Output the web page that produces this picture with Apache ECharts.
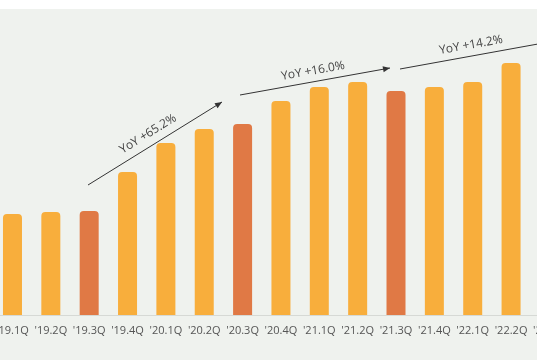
<!DOCTYPE html>
<html>
<head>
<meta charset="utf-8">
<script src="https://cdn.jsdelivr.net/npm/echarts@6/dist/echarts.min.js"></script>
<style>
html,body{margin:0;padding:0;background:#ffffff;overflow:hidden;width:537px;height:360px;}
#bg{position:absolute;left:0;top:9px;width:537px;height:351px;background:#eff2ee;}
#chart{position:absolute;left:-7px;top:0;width:576px;height:360px;}
</style>
</head>
<body>
<div id="bg"></div>
<div id="chart"></div>
<script>
const categories = ["'19.1Q","'19.2Q","'19.3Q","'19.4Q","'20.1Q","'20.2Q","'20.3Q","'20.4Q","'21.1Q","'21.2Q","'21.3Q","'21.4Q","'22.1Q","'22.2Q","'22.3Q"];
const values = [130, 132, 133, 172, 201, 215, 220, 243, 257, 262, 253, 257, 262, 281, 289];
const highlightIdx = [2, 6, 10, 14];
const yoyLabels = ["YoY +65.2%", "YoY +16.0%", "YoY +14.2%"];

const ORANGE = '#f8ae3c';
const DARK = '#e07945';
const OFF = 7; // chart div offset to the left

const chart = echarts.init(document.getElementById('chart'), null, {renderer: 'canvas'});

function arrowHead(x1, y1, x2, y2) {
  const a = Math.atan2(y2 - y1, x2 - x1);
  const L = 7, W = 3;
  const bx = x2 - L * Math.cos(a), by = y2 - L * Math.sin(a);
  return [[x2, y2], [bx + W * Math.sin(a), by - W * Math.cos(a)], [bx - W * Math.sin(a), by + W * Math.cos(a)]];
}

const arrows = [
  {p: [88, 185, 222, 102], t: [148, 134], head: true},
  {p: [240, 95, 390, 68], t: [313, 71], head: true},
  {p: [400, 69, 560, 40], t: [471, 45], head: false}
];

const graphics = [];
arrows.forEach((a, i) => {
  const x1 = a.p[0] + OFF, y1 = a.p[1], x2 = a.p[2] + OFF, y2 = a.p[3];
  graphics.push({type: 'line', shape: {x1, y1, x2, y2}, style: {stroke: '#333', lineWidth: 1}, z: 10});
  if (a.head) graphics.push({type: 'polygon', shape: {points: arrowHead(x1, y1, x2, y2)}, style: {fill: '#333'}, z: 10});
  const ang = -Math.atan2(y2 - y1, x2 - x1);
  graphics.push({type: 'text', x: a.t[0] + OFF, y: a.t[1], rotation: ang,
    style: {text: yoyLabels[i], fill: '#444', font: '12px "Open Sans"', align: 'center', verticalAlign: 'middle'}, z: 10});
});

chart.setOption({
  animation: false,
  backgroundColor: 'transparent',
  grid: {left: 0.3, right: 0.4, top: 9, bottom: 45},
  xAxis: {
    type: 'category', data: categories,
    axisLine: {lineStyle: {color: '#d6d9d5', width: 1}},
    axisTick: {show: false},
    axisLabel: {color: '#555', fontSize: 11, fontFamily: 'Open Sans', margin: 10, interval: 0}
  },
  yAxis: {type: 'value', min: 29, max: 335, show: false, splitLine: {show: false}},
  series: [{
    type: 'bar', barWidth: 19,
    data: values.map((v, i) => ({value: v, itemStyle: {color: highlightIdx.includes(i) ? DARK : ORANGE}})),
    itemStyle: {borderRadius: [4, 4, 0, 0]}
  }],
  graphic: graphics
});
</script>
</body>
</html>
